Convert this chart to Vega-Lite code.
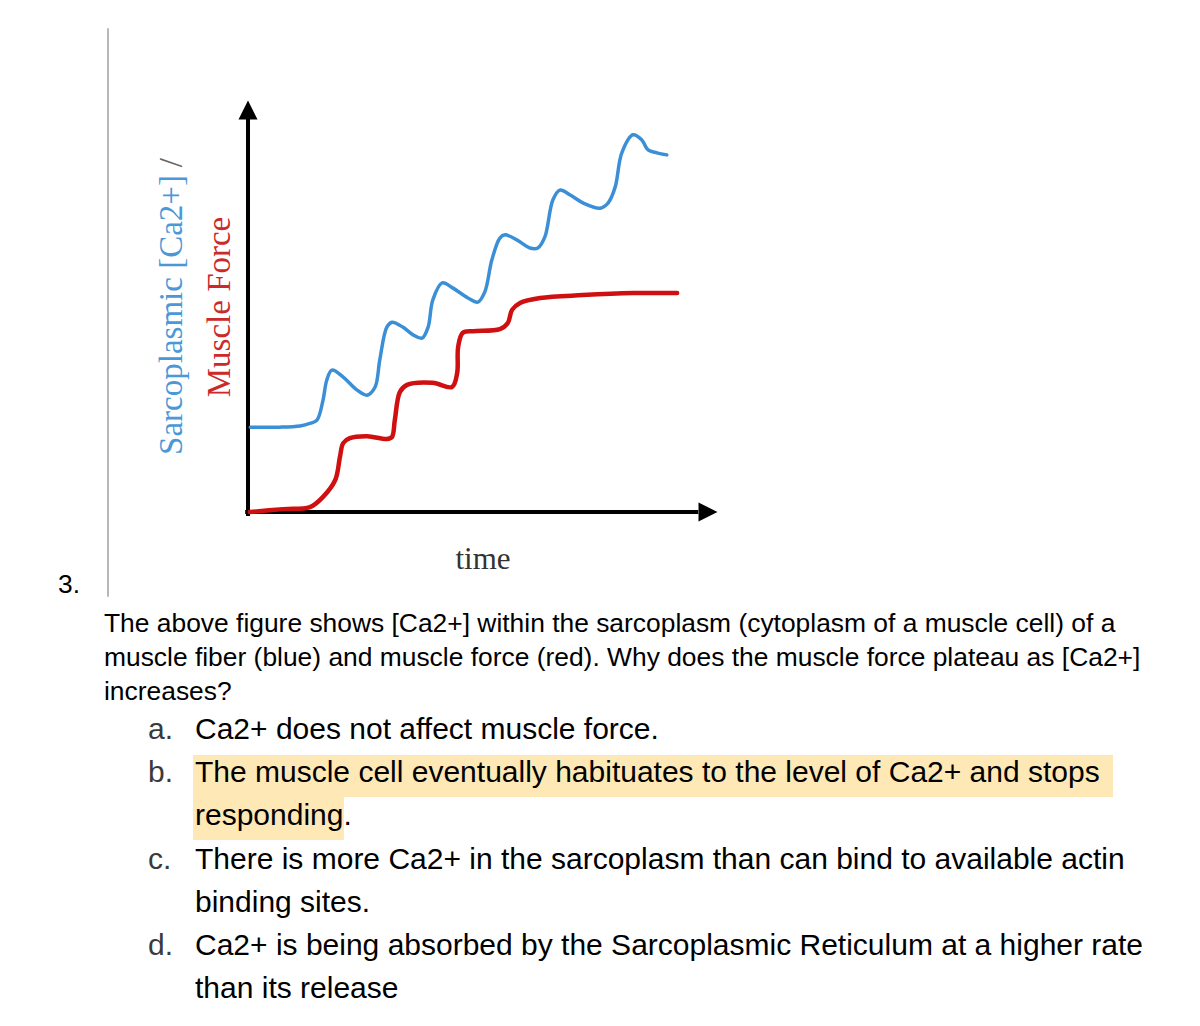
{
  "$schema": "https://vega.github.io/schema/vega-lite/v6.json",
  "width": 1200,
  "height": 1026,
  "autosize": {"type": "none"},
  "padding": 0,
  "background": "white",
  "config": {"view": {"stroke": null}},
  "datasets": {
    "curves": [
      {"series": "ca", "t": 0.5, "v": 20.7}, {"series": "ca", "t": 6.8, "v": 20.7}, {"series": "ca", "t": 11.1, "v": 21.0},
      {"series": "ca", "t": 13.2, "v": 21.6}, {"series": "ca", "t": 14.7, "v": 22.4}, {"series": "ca", "t": 16.0, "v": 27.3},
      {"series": "ca", "t": 16.8, "v": 32.2}, {"series": "ca", "t": 17.9, "v": 34.6}, {"series": "ca", "t": 20.3, "v": 32.9},
      {"series": "ca", "t": 23.2, "v": 29.8}, {"series": "ca", "t": 25.4, "v": 28.5}, {"series": "ca", "t": 27.1, "v": 30.5},
      {"series": "ca", "t": 28.1, "v": 37.1}, {"series": "ca", "t": 29.6, "v": 45.1}, {"series": "ca", "t": 30.7, "v": 46.3},
      {"series": "ca", "t": 33.0, "v": 45.1}, {"series": "ca", "t": 35.2, "v": 43.2}, {"series": "ca", "t": 37.1, "v": 42.4},
      {"series": "ca", "t": 38.4, "v": 45.1}, {"series": "ca", "t": 39.4, "v": 51.7}, {"series": "ca", "t": 41.4, "v": 55.9},
      {"series": "ca", "t": 43.7, "v": 54.6}, {"series": "ca", "t": 46.9, "v": 52.2}, {"series": "ca", "t": 49.0, "v": 51.2},
      {"series": "ca", "t": 50.5, "v": 53.7}, {"series": "ca", "t": 52.0, "v": 61.5}, {"series": "ca", "t": 53.7, "v": 66.8},
      {"series": "ca", "t": 54.8, "v": 67.6}, {"series": "ca", "t": 57.4, "v": 66.3}, {"series": "ca", "t": 60.1, "v": 64.4},
      {"series": "ca", "t": 61.8, "v": 64.4}, {"series": "ca", "t": 63.3, "v": 67.1}, {"series": "ca", "t": 65.0, "v": 76.1},
      {"series": "ca", "t": 66.5, "v": 78.5}, {"series": "ca", "t": 68.7, "v": 77.3}, {"series": "ca", "t": 71.4, "v": 75.4},
      {"series": "ca", "t": 75.1, "v": 74.1}, {"series": "ca", "t": 76.8, "v": 75.4}, {"series": "ca", "t": 78.3, "v": 79.3},
      {"series": "ca", "t": 79.7, "v": 87.6}, {"series": "ca", "t": 82.1, "v": 92.0}, {"series": "ca", "t": 84.0, "v": 90.7},
      {"series": "ca", "t": 85.3, "v": 88.3}, {"series": "ca", "t": 87.2, "v": 87.6}, {"series": "ca", "t": 89.3, "v": 87.1},
      {"series": "force", "t": 0.4, "v": 0.0}, {"series": "force", "t": 7.5, "v": 0.7}, {"series": "force", "t": 13.2, "v": 1.2},
      {"series": "force", "t": 16.0, "v": 3.7}, {"series": "force", "t": 18.6, "v": 7.8}, {"series": "force", "t": 19.6, "v": 13.4},
      {"series": "force", "t": 20.3, "v": 16.8}, {"series": "force", "t": 21.7, "v": 18.0}, {"series": "force", "t": 25.4, "v": 18.5},
      {"series": "force", "t": 29.6, "v": 17.8}, {"series": "force", "t": 30.7, "v": 18.3}, {"series": "force", "t": 31.3, "v": 22.4},
      {"series": "force", "t": 32.4, "v": 29.3}, {"series": "force", "t": 33.9, "v": 31.0}, {"series": "force", "t": 39.4, "v": 31.5},
      {"series": "force", "t": 43.5, "v": 30.5}, {"series": "force", "t": 44.6, "v": 33.9}, {"series": "force", "t": 44.8, "v": 40.2},
      {"series": "force", "t": 45.8, "v": 43.7}, {"series": "force", "t": 48.0, "v": 44.1}, {"series": "force", "t": 53.7, "v": 44.6},
      {"series": "force", "t": 55.4, "v": 46.1}, {"series": "force", "t": 56.3, "v": 49.3}, {"series": "force", "t": 58.0, "v": 51.0},
      {"series": "force", "t": 62.3, "v": 52.2}, {"series": "force", "t": 71.4, "v": 52.9}, {"series": "force", "t": 82.1, "v": 53.4},
      {"series": "force", "t": 91.5, "v": 53.4}
    ]
  },
  "layer": [
    {
      "layer": [
        {
          "data": {"values": [{"t": -29.85, "v": 118.0, "v2": -20.7}]},
          "mark": {"type": "rule", "color": "#b8b8b8", "strokeWidth": 2},
          "encoding": {
            "x": {"field": "t", "type": "quantitative", "scale": {"domain": [0, 100], "range": [248, 717], "nice": false, "zero": false}, "axis": null},
            "y": {"field": "v", "type": "quantitative", "scale": {"domain": [0, 100], "range": [512, 102], "nice": false, "zero": false}, "axis": null},
            "y2": {"field": "v2"}
          }
        },
        {
          "data": {"values": [{"t": 0, "t2": 0, "v": -1, "v2": 96}, {"t": -0.6, "t2": 96, "v": 0, "v2": 0}]},
          "mark": {"type": "rule", "color": "black", "strokeWidth": 4},
          "encoding": {
            "x": {"field": "t", "type": "quantitative", "axis": null},
            "x2": {"field": "t2"},
            "y": {"field": "v", "type": "quantitative", "axis": null},
            "y2": {"field": "v2"}
          }
        },
        {
          "data": {"values": [{"dir": "up", "t": 0, "v": 98.05}, {"dir": "right", "t": 98.08, "v": 0}]},
          "mark": {"type": "point", "filled": true, "opacity": 1, "color": "black", "size": 361, "strokeWidth": 0},
          "encoding": {
            "x": {"field": "t", "type": "quantitative", "axis": null},
            "y": {"field": "v", "type": "quantitative", "axis": null},
            "shape": {"field": "dir", "type": "nominal", "legend": null,
              "scale": {"domain": ["up", "right"], "range": ["M0,-1L1,1L-1,1Z", "M1,0L-1,-1L-1,1Z"]}}
          }
        },
        {
          "data": {"name": "curves"},
          "transform": [{"filter": "datum.series === 'ca'"}],
          "mark": {"type": "line", "interpolate": "catmull-rom", "color": "#3a8fd6", "strokeWidth": 3.5, "strokeCap": "round", "strokeJoin": "round"},
          "encoding": {
            "x": {"field": "t", "type": "quantitative", "axis": null},
            "y": {"field": "v", "type": "quantitative", "axis": null}
          }
        },
        {
          "data": {"name": "curves"},
          "transform": [{"filter": "datum.series === 'force'"}],
          "mark": {"type": "line", "interpolate": "catmull-rom", "color": "#d01010", "strokeWidth": 4.5, "strokeCap": "round", "strokeJoin": "round"},
          "encoding": {
            "x": {"field": "t", "type": "quantitative", "axis": null},
            "y": {"field": "v", "type": "quantitative", "axis": null}
          }
        },
        {
          "data": {"values": [{"text": "time", "t": 50.1, "v": -13.9}]},
          "mark": {"type": "text", "font": "Liberation Serif", "fontSize": 31, "align": "center", "baseline": "alphabetic", "color": "#333333"},
          "encoding": {
            "x": {"field": "t", "type": "quantitative", "axis": null},
            "y": {"field": "v", "type": "quantitative", "axis": null},
            "text": {"field": "text"}
          }
        },
        {
          "data": {"values": [
            {"text": "Sarcoplasmic [Ca2+]", "role": "ca", "t": -14.07, "v": 48.05},
            {"text": "/", "role": "sep", "t": -14.07, "v": 85.2},
            {"text": "Muscle Force", "role": "force", "t": -3.84, "v": 50.0}
          ]},
          "mark": {"type": "text", "font": "Liberation Serif", "fontSize": 33, "align": "center", "baseline": "alphabetic", "angle": 270},
          "encoding": {
            "x": {"field": "t", "type": "quantitative", "axis": null},
            "y": {"field": "v", "type": "quantitative", "axis": null},
            "text": {"field": "text"},
            "color": {"field": "role", "type": "nominal", "legend": null,
              "scale": {"domain": ["ca", "sep", "force"], "range": ["#4a98d8", "#666666", "#cc2a2a"]}}
          }
        }
      ]
    },
    {
      "data": {"values": [
        {"line": -1.147, "indent": -1, "text": "3."},
        {"line": 0, "indent": 0, "text": "The above figure shows [Ca2+] within the sarcoplasm (cytoplasm of a muscle cell) of a"},
        {"line": 1, "indent": 0, "text": "muscle fiber (blue) and muscle force (red). Why does the muscle force plateau as [Ca2+]"},
        {"line": 2, "indent": 0, "text": "increases?"}
      ]},
      "mark": {"type": "text", "font": "Liberation Sans", "fontSize": 26.4, "align": "left", "baseline": "alphabetic", "color": "#000000"},
      "encoding": {
        "x": {"field": "indent", "type": "quantitative", "axis": null, "scale": {"domain": [-1, 0], "range": [58, 104], "nice": false, "zero": false}},
        "y": {"field": "line", "type": "quantitative", "axis": null, "scale": {"domain": [0, 2], "range": [632, 700], "nice": false, "zero": false}},
        "text": {"field": "text"}
      }
    },
    {
      "data": {"values": [
        {"from": 0, "to": 1, "top": 0.371, "bottom": 1.344},
        {"from": 0, "to": 0.164, "top": 1.344, "bottom": 2.34}
      ]},
      "mark": {"type": "rect", "color": "#fde8b6"},
      "encoding": {
        "x": {"field": "from", "type": "quantitative", "axis": null, "scale": {"domain": [0, 1], "range": [193, 1113], "nice": false, "zero": false}},
        "x2": {"field": "to"},
        "y": {"field": "top", "type": "quantitative", "axis": null, "scale": {"domain": [0, 6], "range": [739, 998], "nice": false, "zero": false}},
        "y2": {"field": "bottom"}
      }
    },
    {
      "data": {"values": [
        {"line": 0, "col": 0, "text": "a."},
        {"line": 0, "col": 1, "text": "Ca2+ does not affect muscle force."},
        {"line": 1, "col": 0, "text": "b."},
        {"line": 1, "col": 1, "text": "The muscle cell eventually habituates to the level of Ca2+ and stops"},
        {"line": 2, "col": 1, "text": "responding."},
        {"line": 3, "col": 0, "text": "c."},
        {"line": 3, "col": 1, "text": "There is more Ca2+ in the sarcoplasm than can bind to available actin"},
        {"line": 4, "col": 1, "text": "binding sites."},
        {"line": 5, "col": 0, "text": "d."},
        {"line": 5, "col": 1, "text": "Ca2+ is being absorbed by the Sarcoplasmic Reticulum at a higher rate"},
        {"line": 6, "col": 1, "text": "than its release"}
      ]},
      "mark": {"type": "text", "font": "Liberation Sans", "fontSize": 30, "align": "left", "baseline": "alphabetic"},
      "encoding": {
        "x": {"field": "col", "type": "quantitative", "axis": null, "scale": {"domain": [0, 1], "range": [148, 195], "nice": false, "zero": false}},
        "y": {"field": "line", "type": "quantitative", "axis": null, "scale": {"domain": [0, 6], "range": [739, 998], "nice": false, "zero": false}},
        "text": {"field": "text"},
        "color": {"field": "col", "type": "nominal", "legend": null, "scale": {"domain": [0, 1], "range": ["#3a3a3a", "#000000"]}}
      }
    }
  ],
  "resolve": {"scale": {"x": "independent", "y": "independent", "color": "independent", "shape": "independent"}}
}
